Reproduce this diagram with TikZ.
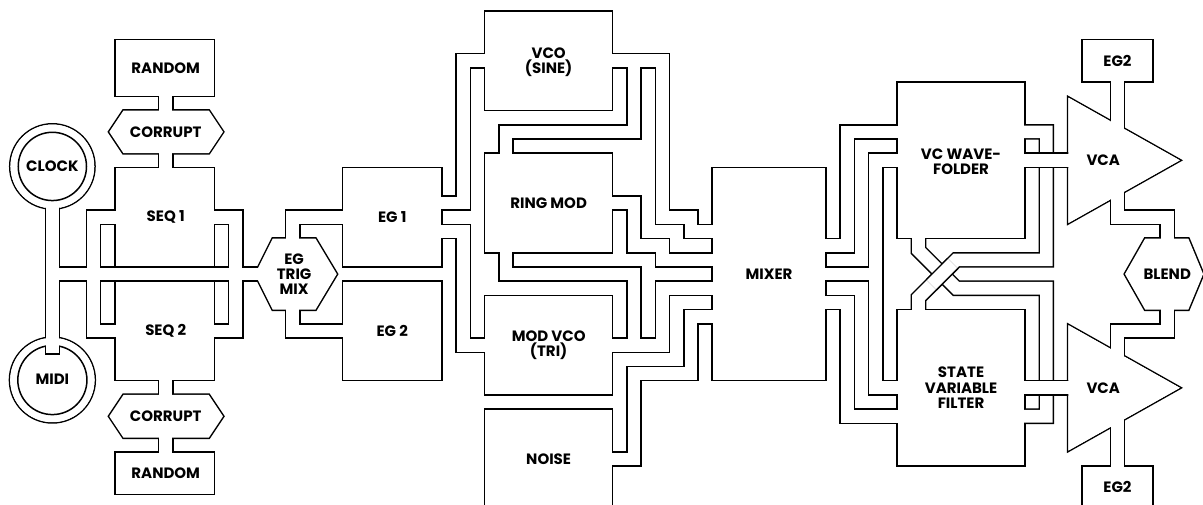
\documentclass[tikz,border=0pt]{standalone}
\usepackage{fontspec}
\setmainfont{Poppins}
\pgfdeclarelayer{bg}
\pgfdeclarelayer{la}
\pgfdeclarelayer{lb}
\pgfdeclarelayer{lc}
\pgfdeclarelayer{ld}
\pgfsetlayers{bg,la,lb,lc,ld,main}
\tikzset{
  lbl/.style={font=\fontsize{15}{15.2}\selectfont\bfseries, align=center, inner sep=0pt},
  chanblack/.style={draw=black, line width=15.72pt, line join=miter, line cap=butt},
  chanwhite/.style={draw=white, line width=12.72pt, line join=miter, line cap=butt},
  blkline/.style={draw=black, line width=1.5pt, line join=miter},
  polyblkline/.style={draw=black, line width=3pt, line join=miter},
}
\newcommand{\chanpath}[1]{%
  \begin{pgfonlayer}{la}\draw[chanblack] #1;\end{pgfonlayer}%
  \begin{pgfonlayer}{lb}\draw[chanwhite] #1;\end{pgfonlayer}}
\newcommand{\bridgepath}[1]{%
  \begin{pgfonlayer}{lc}\draw[chanblack] #1;\end{pgfonlayer}%
  \begin{pgfonlayer}{ld}\draw[chanwhite] #1;\end{pgfonlayer}}
\newcommand{\rectblock}[4]{%
  \begin{pgfonlayer}{la}\draw[blkline] (#1,#2) rectangle (#3,#4);\end{pgfonlayer}%
  \begin{pgfonlayer}{lb}\fill[white] ({#1+0.0527},{#2+0.0527}) rectangle ({#3-0.0527},{#4-0.0527});\end{pgfonlayer}}
\newcommand{\polyblock}[1]{%
  \begin{pgfonlayer}{la}\draw[polyblkline] #1 -- cycle;\end{pgfonlayer}%
  \begin{pgfonlayer}{lb}\fill[white] #1 -- cycle;\end{pgfonlayer}}
\newcommand{\vcablock}[1]{%
  \begin{pgfonlayer}{la}\draw[blkline] (74,#1) -- (82,{#1+4.5}) -- (74,{#1+9}) -- cycle;\end{pgfonlayer}%
  \begin{pgfonlayer}{lb}\fill[white] (74.0527,{#1+0.09}) -- (81.893,{#1+4.5}) -- (74.0527,{#1+8.91}) -- cycle;\end{pgfonlayer}}

\begin{document}
\begin{tikzpicture}[x=14.22pt,y=-14.22pt]
\useasboundingbox (-1.083,-0.774) rectangle (83.515,34.669);
\begin{pgfonlayer}{bg}\fill[white] (-1.083,-0.774) rectangle (83.515,34.669);\end{pgfonlayer}

% ---------- labelled nodes ----------
\node[lbl] (rand1) at (10.57,4.05) {RANDOM};
\node[lbl] (cor1) at (10.57,8.55) {CORRUPT};
\node[lbl] (seq1) at (10.57,14.5) {SEQ 1};
\node[lbl] (seq2) at (10.57,22.5) {SEQ 2};
\node[lbl] (cor2) at (10.57,28.5) {CORRUPT};
\node[lbl] (rand2) at (10.57,32.5) {RANDOM};
\node[lbl] (clock) at (2.6,10.93) {CLOCK};
\node[lbl] (midi) at (2.6,25.9) {MIDI};
\coordinate (bus) at (2.6,18.5);
\node[lbl] (egtm) at (19.6,18.5) {EG\\TRIG\\MIX};
\node[lbl] (eg1) at (26.5,14.5) {EG 1};
\node[lbl] (eg2) at (26.5,22.5) {EG 2};
\node[lbl] (vco) at (37.5,3.6) {VCO\\(SINE)};
\node[lbl] (ringmod) at (37.5,13.5) {RING MOD};
\node[lbl] (modvco) at (37.5,23.5) {MOD VCO\\(TRI)};
\node[lbl] (noise) at (37.5,31.5) {NOISE};
\node[lbl] (mixer) at (53,18.5) {MIXER};
\node[lbl] (wf) at (66.5,10.6) {VC WAVE-\\FOLDER};
\node[lbl] (svf) at (66.5,26.5) {STATE\\VARIABLE\\FILTER};
\node[lbl] (vca1) at (76.5,10.5) {VCA};
\node[lbl] (vca2) at (76.5,26.5) {VCA};
\node[lbl] (blend) at (81,18.5) {BLEND};
\node[lbl] (eg2a) at (77.5,3.5) {EG2};
\node[lbl] (eg2b) at (77.5,33.5) {EG2};

% ---------- blocks ----------
\rectblock{7}{2}{14}{6}
\rectblock{7}{11}{14}{18}
\rectblock{7}{19}{14}{26}
\rectblock{7}{31}{14}{34}
\rectblock{23}{11}{30}{18}
\rectblock{23}{19}{30}{26}
\rectblock{33}{0}{42}{7}
\rectblock{33}{10}{42}{17}
\rectblock{33}{20}{42}{27}
\rectblock{33}{28}{42}{36}
\rectblock{49}{11}{57}{26}
\rectblock{62}{5}{71}{16}
\rectblock{62}{21}{71}{32}
\rectblock{75}{2}{80}{5}
\rectblock{75}{32}{80}{36}
\polyblock{(6.6,8.5) -- (7.6,7) -- (13.6,7) -- (14.6,8.5) -- (13.6,10) -- (7.6,10)}
\polyblock{(6.6,28.5) -- (7.6,27) -- (13.6,27) -- (14.6,28.5) -- (13.6,30) -- (7.6,30)}
\polyblock{(16.85,18.5) -- (18.1,16) -- (21.1,16) -- (22.6,18.5) -- (21.1,21) -- (18.1,21)}
\polyblock{(78.03,18.5) -- (79.45,16) -- (82.48,16) -- (83.52,18.5) -- (82.48,21) -- (79.45,21)}
\vcablock{6}
\vcablock{22}
\begin{pgfonlayer}{la}
  \draw[blkline] (clock.center) circle[radius=3.0];
  \draw[blkline] (midi.center) ++(0,0.05) circle[radius=3.02];
\end{pgfonlayer}
\begin{pgfonlayer}{lb}
  \fill[white] (clock.center) circle[radius=2.947];
  \fill[white] (midi.center) ++(0,0.05) circle[radius=2.967];
\end{pgfonlayer}

% ---------- channels ----------
\chanpath{(clock.center) -- (midi.center)}
\chanpath{(bus) -- (egtm.center)}
\chanpath{(rand1.center) -- (cor1.center) -- (seq1.center)}
\chanpath{(seq2.center) -- (cor2.center) -- (rand2.center)}
\chanpath{(seq1.center) -- (5.5,14.5) -- (5.5,22.5) -- (seq2.center)}
\chanpath{(seq1.center) -- (15.5,14.5) -- (15.5,22.5) -- (seq2.center)}
\chanpath{(egtm.center) -| (19.5,14.5) -- (eg1.center)}
\chanpath{(egtm.center) -| (19.5,22.5) -- (eg2.center)}
\chanpath{(eg1.center) |- (31.5,13.5) -- (31.5,3.5) -| (vco.center)}
\chanpath{(eg1.center) |- (31.5,15.5) -- (31.5,23.5) -- (modvco.center)}
\chanpath{(vco.center) |- (45.5,3.5) -- (45.5,14.5) -- (47.5,14.5) -- (47.5,15.5) -| (mixer.center)}
\chanpath{(vco.center) |- (43.5,3.5) -- (43.5,8.5) -- (34.5,8.5) |- (ringmod.center)}
\chanpath{(ringmod.center) -- (43.5,13.5) -- (43.5,16.5) -- (45.5,16.5) -- (45.5,17.5) -| (mixer.center)}
\chanpath{(modvco.center) -- (45.5,23.5) -- (45.5,19.5) -| (mixer.center)}
\chanpath{(modvco.center) -- (43.5,23.5) -- (43.5,18.5) -- (34.5,18.5) |- (ringmod.center)}
\chanpath{(noise.center) -- (43.5,31.5) -- (43.5,25.5) -- (47.5,25.5) -- (47.5,21.5) -| (mixer.center)}
\chanpath{(mixer.center) |- (58.5,16.5) -- (58.5,8.5) -| (wf.center)}
\chanpath{(mixer.center) -- (60.5,18.5)}
\chanpath{(wf.center) |- (60.5,10.5) -- (60.5,26.5) -- (svf.center)}
\chanpath{(mixer.center) |- (58.5,20.5) -- (58.5,28.5) -| (svf.center)}
\chanpath{(wf.center) |- (vca1.center)}
\chanpath{(svf.center) -- (vca2.center)}
\chanpath{(wf.center) -| (63.5,16.83) -- (66.17,19.5) -- (72.5,19.5) -- (72.5,28.5) -| (svf.center)}
\chanpath{(svf.center) -| (63.5,20.17) -- (66.17,17.5) -- (72.5,17.5) -- (72.5,8.5) -| (wf.center)}
\chanpath{(eg2a.center) |- (vca1.center)}
\chanpath{(eg2b.center) |- (vca2.center)}
\chanpath{(vca1.center) -| (77.5,14.5) -- (81,14.5) -- (blend.center)}
\chanpath{(vca2.center) -| (77.5,22.5) -- (81,22.5) -- (blend.center)}

% ---------- crossings (one pipe over another) ----------
\bridgepath{(64.42,19.25) -- (65.92,17.75)}
\bridgepath{(71.6,10.5) -- (73.4,10.5)}
\bridgepath{(71.6,26.5) -- (73.4,26.5)}

% ---------- inner rings ----------
\begin{pgfonlayer}{ld}
  \draw[blkline] (clock.center) circle[radius=2.4];
  \draw[blkline] (midi.center) ++(0,0.05) circle[radius=2.43];
  \fill[white] (2.153,23.3) rectangle (3.047,24.067);
  \draw[blkline] (2.1,23.58) -- (2.1,24.12) -- (3.1,24.12) -- (3.1,23.58);
\end{pgfonlayer}
\end{tikzpicture}
\end{document}
